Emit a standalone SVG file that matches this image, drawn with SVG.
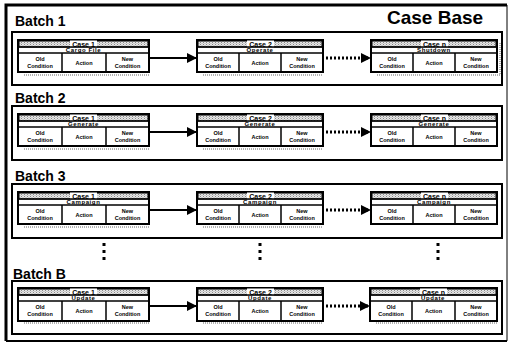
<svg xmlns="http://www.w3.org/2000/svg" width="510" height="345" viewBox="0 0 510 345">
<style>
.lbl{font-family:"Liberation Sans",Arial,sans-serif;font-weight:bold;font-size:14px;fill:#000}
.ttl{font-family:"Liberation Sans",Arial,sans-serif;font-weight:bold;font-size:19px;fill:#000}
.batch{fill:#fff;stroke:#000;stroke-width:2}
.nb{fill:#fff;stroke:#000;stroke-width:2}
.hd{fill:url(#dith);stroke:#000;stroke-width:1}
.ln{stroke:#000;stroke-width:1.5;fill:none}
.sh{stroke:#9a9a9a;stroke-width:1.5;stroke-dasharray:1 1;fill:none}
.ct{font-family:"Liberation Sans",Arial,sans-serif;font-weight:bold;font-size:7px;fill:#000;text-anchor:middle}
.r2{font-family:"Liberation Sans",Arial,sans-serif;font-weight:bold;font-size:6px;fill:#000;text-anchor:middle;letter-spacing:0.6px}
.cl{font-family:"Liberation Sans",Arial,sans-serif;font-weight:bold;font-size:5.5px;fill:#000;text-anchor:middle}
.sol{stroke:#000;stroke-width:2;fill:none}
.dot{stroke:#000;stroke-width:3;stroke-dasharray:2 2;fill:none}
.vd{fill:#000}
</style>
<defs>
<pattern id="dith" width="3" height="2" patternUnits="userSpaceOnUse">
<rect width="3" height="2" fill="#e6e6e6"/>
<rect width="1" height="1" fill="#8a8a8a"/>
<rect x="1.5" y="1" width="1" height="1" fill="#b0b0b0"/>
</pattern>
<marker id="ah" viewBox="0 0 10 10" refX="10" refY="5" markerWidth="10" markerHeight="10" markerUnits="userSpaceOnUse" orient="auto">
<path d="M0,0 L10,5 L0,10 Z" fill="#000"/>
</marker>
</defs>
<rect width="510" height="345" fill="#fff"/>
<g id="frame">
<path d="M6,341 V5 H507" fill="none" stroke="#000" stroke-width="3"/>
<path d="M6,341 H507" fill="none" stroke="#000" stroke-width="2"/>
<path d="M507,5 V341" fill="none" stroke="#000" stroke-width="1"/>
</g>
<text class="ttl" x="387" y="24">Case Base</text>
<text class="lbl" x="15" y="26">Batch 1</text>
<text class="lbl" x="15" y="103">Batch 2</text>
<text class="lbl" x="15" y="181">Batch 3</text>
<text class="lbl" x="13" y="279">Batch B</text>
<g id="batches">
<rect class="batch" x="12" y="32" width="490" height="53"/>
<rect class="batch" x="12" y="106" width="490" height="54"/>
<rect class="batch" x="12" y="184" width="490" height="54"/>
<rect class="batch" x="12" y="281" width="490" height="53"/>
</g>

<!-- Batch 1 -->
<g id="b1n1" transform="translate(18,40)">
<line class="sh" x1="6" y1="35" x2="131" y2="35"/>
<rect class="nb" x="0" y="0" width="131" height="32"/>
<rect class="hd" x="1" y="1" width="129" height="6"/>
<rect x="52" y="0.5" width="27" height="7" fill="#fff"/>
<text class="ct" x="65.5" y="6.5">Case 1</text>
<line class="ln" x1="0" y1="7" x2="131" y2="7"/>
<text class="r2" x="65.5" y="12.3">Cargo File</text>
<line class="ln" x1="0" y1="13" x2="131" y2="13"/>
<line class="ln" x1="44" y1="13" x2="44" y2="32"/>
<line class="ln" x1="88" y1="13" x2="88" y2="32"/>
<text class="cl" x="22" y="21">Old</text><text class="cl" x="22" y="28">Condition</text>
<text class="cl" x="66" y="25">Action</text>
<text class="cl" x="109.5" y="21">New</text><text class="cl" x="109.5" y="28">Condition</text>
</g>
<g id="b1n2" transform="translate(197,40)">
<line class="sh" x1="6" y1="35" x2="126" y2="35"/>
<rect class="nb" x="0" y="0" width="126" height="32"/>
<rect class="hd" x="1" y="1" width="124" height="6"/>
<rect x="50" y="0.5" width="27" height="7" fill="#fff"/>
<text class="ct" x="63.5" y="6.5">Case 2</text>
<line class="ln" x1="0" y1="7" x2="126" y2="7"/>
<text class="r2" x="63" y="12.3">Operate</text>
<line class="ln" x1="0" y1="13" x2="126" y2="13"/>
<line class="ln" x1="42" y1="13" x2="42" y2="32"/>
<line class="ln" x1="84" y1="13" x2="84" y2="32"/>
<text class="cl" x="21" y="21">Old</text><text class="cl" x="21" y="28">Condition</text>
<text class="cl" x="63" y="25">Action</text>
<text class="cl" x="105" y="21">New</text><text class="cl" x="105" y="28">Condition</text>
</g>
<g id="b1n3" transform="translate(371,40)">
<line class="sh" x1="6" y1="35" x2="130" y2="35"/>
<line class="sh" x1="129" y1="3" x2="129" y2="35"/>
<rect class="nb" x="0" y="0" width="126" height="32"/>
<rect class="hd" x="1" y="1" width="124" height="6"/>
<rect x="50" y="0.5" width="27" height="7" fill="#fff"/>
<text class="ct" x="63.5" y="6.5">Case n</text>
<line class="ln" x1="0" y1="7" x2="126" y2="7"/>
<text class="r2" x="63" y="12.3">Shutdown</text>
<line class="ln" x1="0" y1="13" x2="126" y2="13"/>
<line class="ln" x1="42" y1="13" x2="42" y2="32"/>
<line class="ln" x1="84" y1="13" x2="84" y2="32"/>
<text class="cl" x="21" y="21">Old</text><text class="cl" x="21" y="28">Condition</text>
<text class="cl" x="63" y="25">Action</text>
<text class="cl" x="105" y="21">New</text><text class="cl" x="105" y="28">Condition</text>
</g>

<!-- Batch 2 -->
<g id="b2n1" transform="translate(18,114)">
<line class="sh" x1="6" y1="35" x2="131" y2="35"/>
<rect class="nb" x="0" y="0" width="131" height="32"/>
<rect class="hd" x="1" y="1" width="129" height="6"/>
<rect x="52" y="0.5" width="27" height="7" fill="#fff"/>
<text class="ct" x="65.5" y="6.5">Case 1</text>
<line class="ln" x1="0" y1="7" x2="131" y2="7"/>
<text class="r2" x="65.5" y="12.3">Generate</text>
<line class="ln" x1="0" y1="13" x2="131" y2="13"/>
<line class="ln" x1="44" y1="13" x2="44" y2="32"/>
<line class="ln" x1="88" y1="13" x2="88" y2="32"/>
<text class="cl" x="22" y="21">Old</text><text class="cl" x="22" y="28">Condition</text>
<text class="cl" x="66" y="25">Action</text>
<text class="cl" x="109.5" y="21">New</text><text class="cl" x="109.5" y="28">Condition</text>
</g>
<g id="b2n2" transform="translate(197,114)">
<line class="sh" x1="6" y1="35" x2="126" y2="35"/>
<rect class="nb" x="0" y="0" width="126" height="32"/>
<rect class="hd" x="1" y="1" width="124" height="6"/>
<rect x="50" y="0.5" width="27" height="7" fill="#fff"/>
<text class="ct" x="63.5" y="6.5">Case 2</text>
<line class="ln" x1="0" y1="7" x2="126" y2="7"/>
<text class="r2" x="63" y="12.3">Generate</text>
<line class="ln" x1="0" y1="13" x2="126" y2="13"/>
<line class="ln" x1="42" y1="13" x2="42" y2="32"/>
<line class="ln" x1="84" y1="13" x2="84" y2="32"/>
<text class="cl" x="21" y="21">Old</text><text class="cl" x="21" y="28">Condition</text>
<text class="cl" x="63" y="25">Action</text>
<text class="cl" x="105" y="21">New</text><text class="cl" x="105" y="28">Condition</text>
</g>
<g id="b2n3" transform="translate(371,114)">
<rect class="nb" x="0" y="0" width="126" height="32"/>
<rect class="hd" x="1" y="1" width="124" height="6"/>
<rect x="50" y="0.5" width="27" height="7" fill="#fff"/>
<text class="ct" x="63.5" y="6.5">Case n</text>
<line class="ln" x1="0" y1="7" x2="126" y2="7"/>
<text class="r2" x="63" y="12.3">Generate</text>
<line class="ln" x1="0" y1="13" x2="126" y2="13"/>
<line class="ln" x1="42" y1="13" x2="42" y2="32"/>
<line class="ln" x1="84" y1="13" x2="84" y2="32"/>
<text class="cl" x="21" y="21">Old</text><text class="cl" x="21" y="28">Condition</text>
<text class="cl" x="63" y="25">Action</text>
<text class="cl" x="105" y="21">New</text><text class="cl" x="105" y="28">Condition</text>
</g>

<!-- Batch 3 -->
<g id="b3n1" transform="translate(18,192)">
<line class="sh" x1="6" y1="35" x2="131" y2="35"/>
<rect class="nb" x="0" y="0" width="131" height="32"/>
<rect class="hd" x="1" y="1" width="129" height="6"/>
<rect x="52" y="0.5" width="27" height="7" fill="#fff"/>
<text class="ct" x="65.5" y="6.5">Case 1</text>
<line class="ln" x1="0" y1="7" x2="131" y2="7"/>
<text class="r2" x="65.5" y="12.3">Campaign</text>
<line class="ln" x1="0" y1="13" x2="131" y2="13"/>
<line class="ln" x1="44" y1="13" x2="44" y2="32"/>
<line class="ln" x1="88" y1="13" x2="88" y2="32"/>
<text class="cl" x="22" y="21">Old</text><text class="cl" x="22" y="28">Condition</text>
<text class="cl" x="66" y="25">Action</text>
<text class="cl" x="109.5" y="21">New</text><text class="cl" x="109.5" y="28">Condition</text>
</g>
<g id="b3n2" transform="translate(197,192)">
<line class="sh" x1="6" y1="35" x2="126" y2="35"/>
<rect class="nb" x="0" y="0" width="126" height="32"/>
<rect class="hd" x="1" y="1" width="124" height="6"/>
<rect x="50" y="0.5" width="27" height="7" fill="#fff"/>
<text class="ct" x="63.5" y="6.5">Case 2</text>
<line class="ln" x1="0" y1="7" x2="126" y2="7"/>
<text class="r2" x="63" y="12.3">Campaign</text>
<line class="ln" x1="0" y1="13" x2="126" y2="13"/>
<line class="ln" x1="42" y1="13" x2="42" y2="32"/>
<line class="ln" x1="84" y1="13" x2="84" y2="32"/>
<text class="cl" x="21" y="21">Old</text><text class="cl" x="21" y="28">Condition</text>
<text class="cl" x="63" y="25">Action</text>
<text class="cl" x="105" y="21">New</text><text class="cl" x="105" y="28">Condition</text>
</g>
<g id="b3n3" transform="translate(371,192)">
<rect class="nb" x="0" y="0" width="126" height="32"/>
<rect class="hd" x="1" y="1" width="124" height="6"/>
<rect x="50" y="0.5" width="27" height="7" fill="#fff"/>
<text class="ct" x="63.5" y="6.5">Case n</text>
<line class="ln" x1="0" y1="7" x2="126" y2="7"/>
<text class="r2" x="63" y="12.3">Campaign</text>
<line class="ln" x1="0" y1="13" x2="126" y2="13"/>
<line class="ln" x1="42" y1="13" x2="42" y2="32"/>
<line class="ln" x1="84" y1="13" x2="84" y2="32"/>
<text class="cl" x="21" y="21">Old</text><text class="cl" x="21" y="28">Condition</text>
<text class="cl" x="63" y="25">Action</text>
<text class="cl" x="105" y="21">New</text><text class="cl" x="105" y="28">Condition</text>
</g>

<!-- Batch B -->
<g id="bBn1" transform="translate(18,288)">
<line class="sh" x1="6" y1="35" x2="131" y2="35"/>
<rect class="nb" x="0" y="0" width="131" height="33"/>
<rect class="hd" x="1" y="1" width="129" height="6"/>
<rect x="52" y="0.5" width="27" height="7" fill="#fff"/>
<text class="ct" x="65.5" y="6.5">Case 1</text>
<line class="ln" x1="0" y1="7" x2="131" y2="7"/>
<text class="r2" x="65.5" y="12.3">Update</text>
<line class="ln" x1="0" y1="13" x2="131" y2="13"/>
<line class="ln" x1="44" y1="13" x2="44" y2="33"/>
<line class="ln" x1="88" y1="13" x2="88" y2="33"/>
<text class="cl" x="22" y="21">Old</text><text class="cl" x="22" y="28">Condition</text>
<text class="cl" x="66" y="25">Action</text>
<text class="cl" x="109.5" y="21">New</text><text class="cl" x="109.5" y="28">Condition</text>
</g>
<g id="bBn2" transform="translate(197,288)">
<line class="sh" x1="6" y1="35" x2="126" y2="35"/>
<rect class="nb" x="0" y="0" width="126" height="33"/>
<rect class="hd" x="1" y="1" width="124" height="6"/>
<rect x="50" y="0.5" width="27" height="7" fill="#fff"/>
<text class="ct" x="63.5" y="6.5">Case 2</text>
<line class="ln" x1="0" y1="7" x2="126" y2="7"/>
<text class="r2" x="63" y="12.3">Update</text>
<line class="ln" x1="0" y1="13" x2="126" y2="13"/>
<line class="ln" x1="42" y1="13" x2="42" y2="33"/>
<line class="ln" x1="84" y1="13" x2="84" y2="33"/>
<text class="cl" x="21" y="21">Old</text><text class="cl" x="21" y="28">Condition</text>
<text class="cl" x="63" y="25">Action</text>
<text class="cl" x="105" y="21">New</text><text class="cl" x="105" y="28">Condition</text>
</g>
<g id="bBn3" transform="translate(370,288)">
<line class="sh" x1="6" y1="35" x2="127" y2="35"/>
<rect class="nb" x="0" y="0" width="127" height="33"/>
<rect class="hd" x="1" y="1" width="125" height="6"/>
<rect x="50" y="0.5" width="27" height="7" fill="#fff"/>
<text class="ct" x="63.5" y="6.5">Case n</text>
<line class="ln" x1="0" y1="7" x2="127" y2="7"/>
<text class="r2" x="63" y="12.3">Update</text>
<line class="ln" x1="0" y1="13" x2="127" y2="13"/>
<line class="ln" x1="42" y1="13" x2="42" y2="33"/>
<line class="ln" x1="85" y1="13" x2="85" y2="33"/>
<text class="cl" x="21" y="21">Old</text><text class="cl" x="21" y="28">Condition</text>
<text class="cl" x="63.5" y="25">Action</text>
<text class="cl" x="106" y="21">New</text><text class="cl" x="106" y="28">Condition</text>
</g>

<g id="connectors">
<line class="sol" x1="149" y1="58" x2="197" y2="58" marker-end="url(#ah)"/>
<line class="dot" x1="326" y1="58" x2="371" y2="58" marker-end="url(#ah)"/>
<line class="sol" x1="149" y1="132" x2="197" y2="132" marker-end="url(#ah)"/>
<line class="dot" x1="326" y1="132" x2="371" y2="132" marker-end="url(#ah)"/>
<line class="sol" x1="149" y1="210" x2="197" y2="210" marker-end="url(#ah)"/>
<line class="dot" x1="326" y1="210" x2="371" y2="210" marker-end="url(#ah)"/>
<line class="sol" x1="149" y1="306" x2="197" y2="306" marker-end="url(#ah)"/>
<line class="dot" x1="326" y1="306" x2="370" y2="306" marker-end="url(#ah)"/>
</g>
<g id="ellipsis">
<rect class="vd" x="102.5" y="243" width="3" height="3"/>
<rect class="vd" x="102.5" y="250" width="3" height="3"/>
<rect class="vd" x="102.5" y="257" width="3" height="3"/>
<rect class="vd" x="258.5" y="243" width="3" height="3"/>
<rect class="vd" x="258.5" y="250" width="3" height="3"/>
<rect class="vd" x="258.5" y="257" width="3" height="3"/>
<rect class="vd" x="436.5" y="243" width="3" height="3"/>
<rect class="vd" x="436.5" y="250" width="3" height="3"/>
<rect class="vd" x="436.5" y="257" width="3" height="3"/>
</g>
</svg>
